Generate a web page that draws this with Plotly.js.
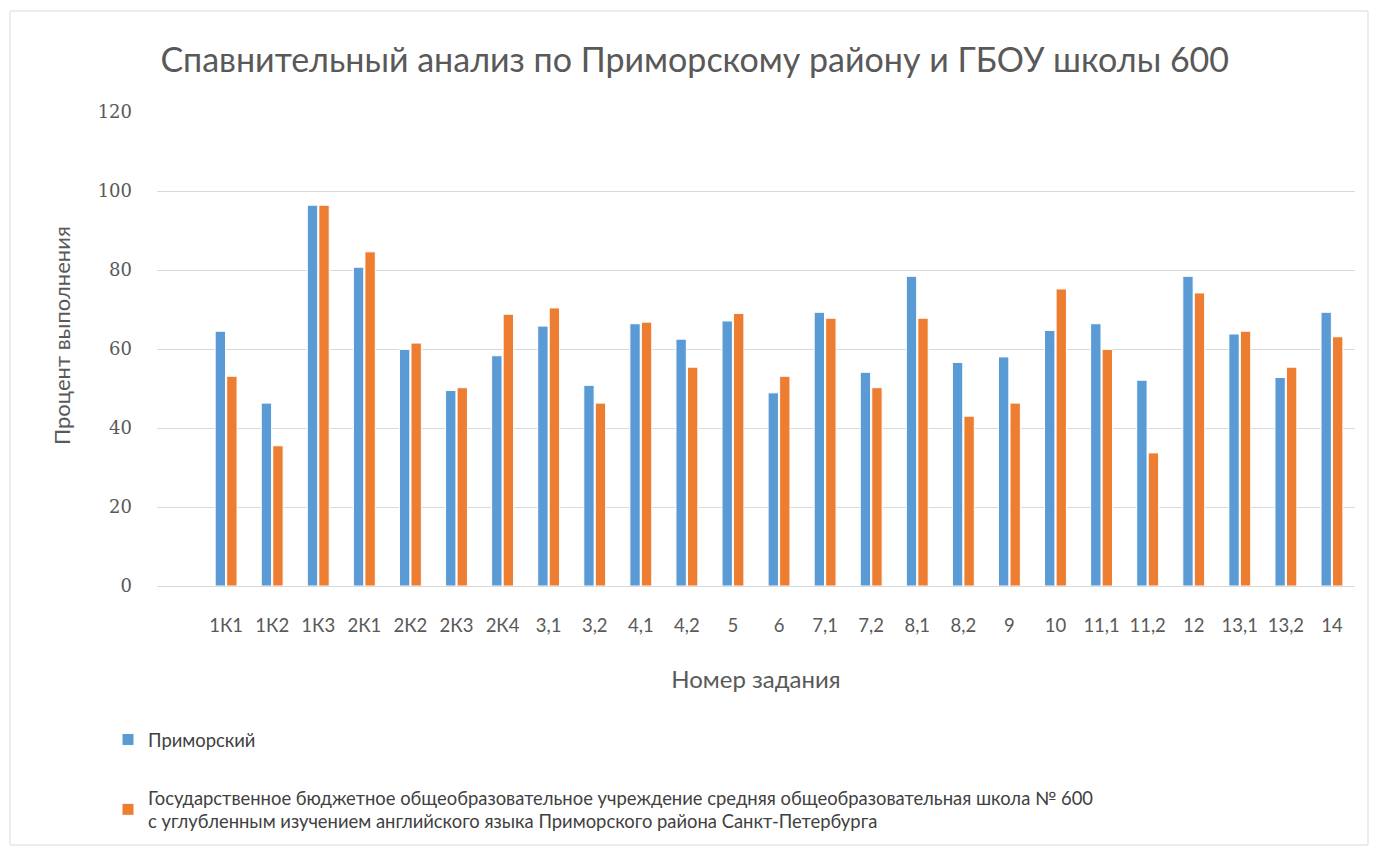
<!DOCTYPE html>
<html><head><meta charset="utf-8">
<script src="https://cdn.plot.ly/plotly-3.0.1.min.js"></script>
<style>html,body{margin:0;padding:0;background:#fff;}#chart{width:1373px;height:847px;}</style>
</head><body><div id="chart"></div>
<script>
const categories = ["1К1","1К2","1К3","2К1","2К2","2К3","2К4","3,1","3,2","4,1","4,2","5","6","7,1","7,2","8,1","8,2","9","10","11,1","11,2","12","13,1","13,2","14"];
const primorsky = [64.5,46.3,96.4,80.7,59.9,49.5,58.3,65.8,50.8,66.4,62.5,67.1,48.9,69.3,54.1,78.4,56.6,58.0,64.7,66.4,52.1,78.4,63.8,52.8,69.3];
const school600 = [53.1,35.5,96.4,84.6,61.5,50.2,68.8,70.4,46.3,66.8,55.4,69.0,53.1,67.8,50.2,67.8,43.0,46.3,75.2,59.9,33.7,74.2,64.5,55.4,63.1];
const seriesNames = ["Приморский","Государственное бюджетное общеобразовательное учреждение средняя общеобразовательная школа № 600<br>с углубленным изучением английского языка Приморского района Санкт-Петербурга"];
const titleText = "Спавнительный анализ по Приморскому району и ГБОУ школы 600";
const xTitle = "Номер задания";
const yTitle = "Процент выполнения";

const grey = "#595959";
const traces = [
  {type:"bar", name:seriesNames[0], legendgroup:"a", x:categories, y:primorsky, marker:{color:"#5B9BD5", line:{color:"#ffffff", width:1}}},
  {type:"bar", name:seriesNames[1], legendgroup:"b", x:categories, y:school600, marker:{color:"#ED7D31", line:{color:"#ffffff", width:1}}}
];
const layout = {
  width:1373, height:847,
  margin:{l:157, r:18, t:112, b:261, autoexpand:false},
  paper_bgcolor:"#fff", plot_bgcolor:"#fff",
  barmode:"group", bargap:0.5, bargroupgap:0.1,
  title:{text:titleText, font:{family:"Lato, Carlito, sans-serif", size:34, color:grey}, xref:"container", yref:"container", x:0.506, y:1-60/847, xanchor:"center", yanchor:"middle", automargin:false},
  xaxis:{type:"category", range:[-1.5,24.5], showgrid:false, zeroline:false, showline:false, ticks:"", tickangle:0, automargin:true,
    tickfont:{family:"Lato, Carlito, sans-serif", size:18.5, color:grey}, ticklabelstandoff:26,
    title:{text:xTitle, font:{family:"Lato, Carlito, sans-serif", size:24, color:grey}, standoff:36}, fixedrange:true},
  yaxis:{range:[0,120], dtick:20, tick0:0, showgrid:true, gridcolor:"#D9D9D9", gridwidth:1, zeroline:true, zerolinecolor:"#D9D9D9", zerolinewidth:1, showline:false, ticks:"", automargin:false,
    tickfont:{family:"DejaVu Serif, Liberation Serif, serif", size:18, color:grey}, ticklabelstandoff:24, fixedrange:true},
  annotations:[{text:yTitle, textangle:-90, xref:"paper", yref:"paper", x:(61-157)/1198, y:(586-336)/474, xanchor:"center", yanchor:"middle", showarrow:false,
    font:{family:"Lato, Carlito, sans-serif", size:22, color:grey}}],
  showlegend:true,
  legend:{orientation:"v", xref:"container", yref:"container", x:108/1373, y:1-721/847, xanchor:"left", yanchor:"top", traceorder:"grouped",
    font:{family:"Lato, Carlito, sans-serif", size:18.4, color:"#404040"}, tracegroupgap:31, itemwidth:30, bgcolor:"rgba(0,0,0,0)"},
  shapes:[{type:"rect", xref:"paper", yref:"paper", x0:(10-157)/1198, x1:(1368-157)/1198, y0:(586-845)/474, y1:(586-11)/474, line:{color:"#D9D9D9", width:1}, fillcolor:"rgba(0,0,0,0)", layer:"below"}]
};
Plotly.newPlot("chart", traces, layout, {displayModeBar:false, staticPlot:true});
</script></body></html>
